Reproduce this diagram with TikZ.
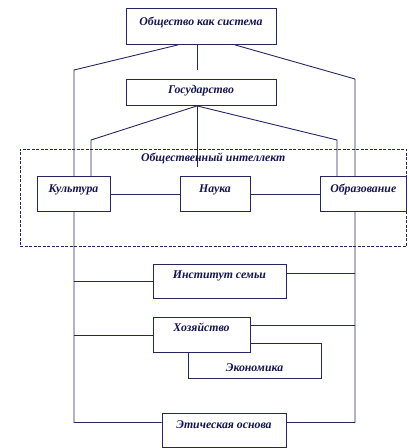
\documentclass[tikz,border=0pt]{standalone}
\usepackage{fontspec}
\setmainfont{Liberation Serif}
\usetikzlibrary{backgrounds}
\definecolor{ink}{RGB}{38,38,100}
\definecolor{txt}{RGB}{20,20,80}

\begin{document}
\begin{tikzpicture}[x=1pt,y=-1pt,
    blk/.style 2 args={draw=ink,fill=white,line width=0.9pt,inner sep=0pt,anchor=north,
      text height=#1,text depth=#2,text=txt,font=\fontsize{11.8}{14}\selectfont\bfseries\itshape},
    grp/.style={draw=ink,dash pattern=on 3pt off 1.5pt,line width=0.8pt,inner sep=0pt,anchor=north,
      text height=12pt,text depth=85pt,text=txt,font=\fontsize{11.8}{14}\selectfont\bfseries\itshape},
    con/.style={draw=ink,line width=0.9pt}]
    \useasboundingbox (0,0) rectangle (408,448);
    \node(Soc)   [blk={17pt}{19pt},minimum width=150pt] at (201,8)      {Общество как система};
    \node(Gos)   [blk={14pt}{12pt},minimum width=150pt] at (201,79)     {Государство};
    \node(Intel) [grp,minimum width=386.5pt]             at (213.25,149) {Общественный интеллект};
    \node(Kult)  [blk={16pt}{19pt},minimum width=73pt]  at (73.5,176)   {Культура};
    \node(Nauka) [blk={16pt}{19pt},minimum width=70pt]  at (215,176)    {Наука};
    \node(Obr)   [blk={16pt}{19pt},minimum width=86.5pt] at (363.25,176) {Образование};
    \node(Sem)   [blk={14pt}{20pt},minimum width=133pt] at (219.5,264)  {Институт семьи};
    \node(Ekon)  [blk={28pt}{7pt},minimum width=133pt]  at (254.5,343)  {Экономика};
    \node(Hoz)   [blk={14pt}{21pt},minimum width=97pt]  at (201.5,317)  {Хозяйство};
    \node(Etika) [blk={15pt}{19pt},minimum width=124pt] at (224,413)    {Этическая основа};
    \coordinate(L)  at (74,70);
    \coordinate(R)  at (355,79);
    \coordinate(GL) at (91,140);
    \coordinate(GR) at (337,140);
    \coordinate(GC) at (197,167);
    \begin{scope}[on background layer]
    \draw[con]([xshift=-23pt]Soc.south) -- (L) |- ([yshift=8pt]Etika.west);
    \draw[con]([xshift=34pt]Soc.south)  -- (R) |- ([yshift=8pt]Etika.east);
    \draw[con]([xshift=-4pt]Soc.south)  -- ([xshift=-4pt]Soc.south |- L);
    \draw[con]([xshift=-4pt]Gos.south)  -- (GL) -- (GL |- Kult.north);
    \draw[con]([xshift=-4pt]Gos.south)  -- (GR) -- (GR |- Obr.north);
    \draw[con]([xshift=-4pt]Gos.south)  -- (GC);
    \draw[con](Kult) -- (Nauka) -- (Obr);
    \draw[con](Sem.west) -- (Sem.west -| L);
    \draw[con]([yshift=8pt]Sem.east) -- ([yshift=8pt]Sem.east -| R);
    \draw[con](Hoz.west) -- (Hoz.west -| L);
    \draw[con]([yshift=9.5pt]Hoz.east) -- ([yshift=9.5pt]Hoz.east -| R);
    \end{scope}
\end{tikzpicture}
\end{document}
